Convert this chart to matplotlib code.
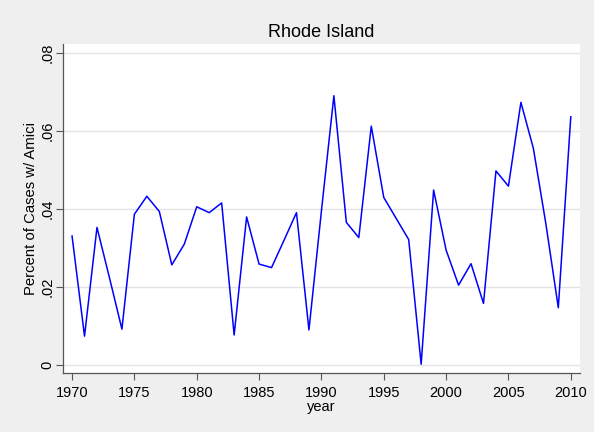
import matplotlib.pyplot as plt
import numpy as np

plt.rcParams['font.family'] = ['Liberation Sans', 'DejaVu Sans']

# share of cases with amicus briefs, Rhode Island
years = list(range(1970, 2011))
share = [0.0331, 0.0074, 0.0353, 0.0224, 0.0092, 0.0387, 0.0433, 0.0394, 0.0257, 0.0310,
         0.0406, 0.0391, 0.0416, 0.0077, 0.0380, 0.0259, 0.0250, 0.0320, 0.0391, 0.0090,
         0.0395, 0.0691, 0.0366, 0.0327, 0.0613, 0.0430, 0.0376, 0.0322, 0.0002, 0.0449,
         0.0295, 0.0205, 0.0260, 0.0158, 0.0498, 0.0459, 0.0674, 0.0556, 0.0363, 0.0147,
         0.0637]
yticks = [0, 0.02, 0.04, 0.06, 0.08]
ytick_labels = ['0', '.02', '.04', '.06', '.08']
xticks = list(range(1970, 2011, 5))

bg = '#efefef'
fig = plt.figure(figsize=(5.94, 4.32), dpi=100, facecolor=bg)
ax = fig.add_axes([62.7 / 594, 1 - 373.3 / 432, (580 - 62.7) / 594, (373.3 - 44.3) / 432])
ax.set_facecolor('white')

ax.plot(years, share, color='#0000ff', linewidth=1.1, zorder=3)

ax.set_xlim(1969.25, 2010.74)
ax.set_ylim(-0.00213, 0.0823)
ax.set_yticks(yticks)
ax.set_yticklabels(ytick_labels, rotation=90, va='center')
ax.set_xticks(xticks)
ax.grid(axis='y', color='#e4e4e4', linewidth=1.0)
ax.set_axisbelow(True)

for side in ['top', 'right']:
    ax.spines[side].set_visible(False)
for side in ['left', 'bottom']:
    ax.spines[side].set_color('#555555')
    ax.spines[side].set_linewidth(0.9)
ax.tick_params(axis='both', direction='out', length=5, width=0.8, color='#555555',
               labelsize=10.5)
ax.tick_params(axis='x', pad=4.5)
ax.tick_params(axis='y', pad=1)

ax.set_title('Rhode Island', fontsize=13, pad=5.5)
ax.set_xlabel('year', fontsize=10.5, labelpad=0)
ax.set_ylabel('Percent of Cases w/ Amici', fontsize=10.7, labelpad=1.5)

fig.savefig('out.png', dpi=100, facecolor=bg)
